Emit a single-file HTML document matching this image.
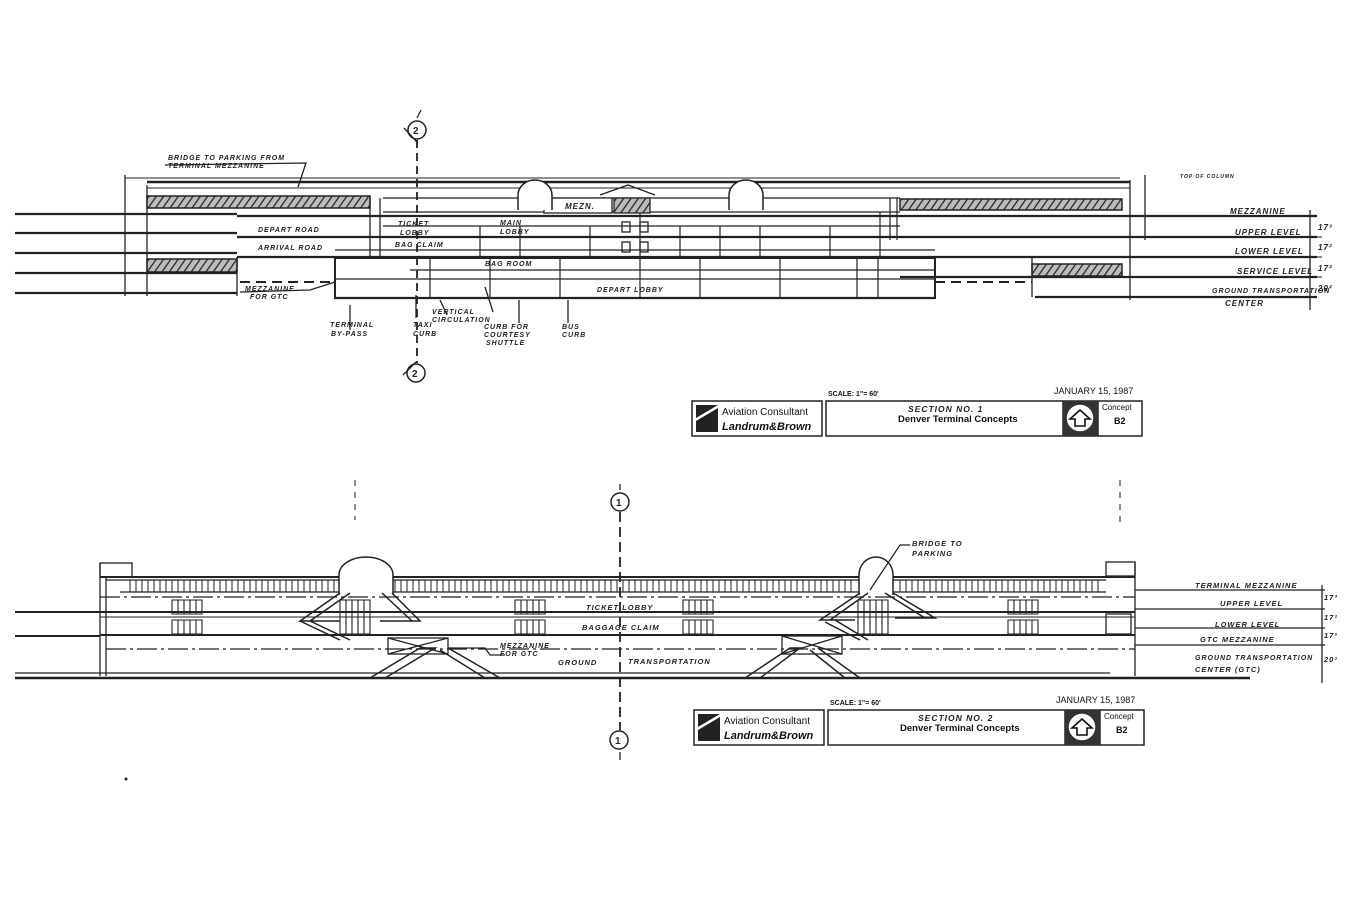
<!DOCTYPE html>
<html><head><meta charset="utf-8"><style>
html,body{margin:0;padding:0;background:#fff}
svg{display:block}
.h{font-family:"Liberation Sans",sans-serif;font-style:italic;font-weight:bold;fill:#222;letter-spacing:1px}
.t{font-family:"Liberation Sans",sans-serif;fill:#111}
</style></head><body>
<svg width="1365" height="910" viewBox="0 0 1365 910" xmlns="http://www.w3.org/2000/svg">
<defs>
<pattern id="hat" width="6" height="6" patternUnits="userSpaceOnUse" patternTransform="rotate(35)">
<rect width="6" height="6" fill="#bbb"/><line x1="0" y1="0" x2="0" y2="6" stroke="#222" stroke-width="2.5"/></pattern>
<g id="tbk">
<g stroke="#222" fill="none" stroke-width="1.5">
<rect x="692" y="401" width="130" height="35"/>
<rect x="826" y="401" width="316" height="35"/>
<line x1="1063" y1="401" x2="1063" y2="436"/>
<line x1="1098" y1="401" x2="1098" y2="436"/>
</g>
<rect x="1063" y="401" width="35" height="35" fill="#333"/>
<circle cx="1080" cy="418" r="14" fill="#fff" stroke="#333" stroke-width="1.5"/>
<path d="M1070 419 L1080 410 L1090 419 L1085 419 L1085 426 L1075 426 L1075 419 Z" fill="none" stroke="#111" stroke-width="1.6"/>
<path d="M696 405 L718 405 L696 418 Z M696 421 L718 408 L718 432 L696 432 Z" fill="#222"/>
<text class="t" x="722" y="415" font-size="10">Aviation Consultant</text>
<text class="t" x="722" y="430" font-size="11" font-style="italic" font-weight="bold">Landrum&amp;Brown</text>
<text class="t" x="898" y="422" font-size="9.5" font-weight="bold">Denver Terminal Concepts</text>
<text class="t" x="1102" y="410" font-size="8">Concept</text>
<text class="t" x="1114" y="424" font-size="9" font-weight="bold">B2</text>
<text class="t" x="828" y="396" font-size="7" font-weight="bold">SCALE: 1"= 60'</text>
<text class="t" x="1054" y="394" font-size="9">JANUARY 15, 1987</text>
</g>
</defs>
<g stroke="#222" fill="none" stroke-width="1.3">
<g stroke-width="2.2">
<line x1="15" y1="214" x2="237" y2="214"/><line x1="15" y1="233" x2="237" y2="233"/>
<line x1="15" y1="253" x2="237" y2="253"/><line x1="15" y1="273" x2="237" y2="273"/>
<line x1="15" y1="293" x2="237" y2="293"/>
<line x1="237" y1="216" x2="1317" y2="216"/>
<line x1="237" y1="237" x2="1317" y2="237"/>
<line x1="237" y1="257" x2="1317" y2="257"/>
<line x1="900" y1="277" x2="1317" y2="277"/>
<line x1="1035" y1="297" x2="1317" y2="297"/>
<line x1="335" y1="298" x2="935" y2="298"/>
</g>
<line x1="1310" y1="210" x2="1310" y2="310"/>
<line x1="125" y1="175" x2="125" y2="296"/><line x1="147" y1="185" x2="147" y2="296"/>
<line x1="125" y1="178" x2="1120" y2="178" stroke-width="1"/>
<line x1="147" y1="182" x2="1130" y2="182" stroke-width="2.5"/>
<line x1="147" y1="188" x2="1130" y2="188" stroke-width="1"/>
<line x1="1130" y1="180" x2="1130" y2="300"/><line x1="1145" y1="175" x2="1145" y2="240"/>
<rect x="147" y="196" width="223" height="12" fill="url(#hat)" stroke-width="1.5"/>
<rect x="900" y="199" width="222" height="11" fill="url(#hat)" stroke-width="1.5"/>
<rect x="147" y="259" width="90" height="13" fill="url(#hat)" stroke-width="1.5"/>
<rect x="1032" y="264" width="90" height="12" fill="url(#hat)" stroke-width="1.5"/>
<line x1="237" y1="257" x2="237" y2="296"/><line x1="1032" y1="257" x2="1032" y2="297"/>
<line x1="240" y1="282" x2="335" y2="282" stroke-dasharray="10 6" stroke-width="2"/>
<line x1="935" y1="282" x2="1032" y2="282" stroke-dasharray="10 6" stroke-width="2"/>
<rect x="335" y="258" width="600" height="40" stroke-width="2"/>
<line x1="335" y1="279" x2="935" y2="279"/>
<line x1="370" y1="198" x2="370" y2="258"/><line x1="380" y1="198" x2="380" y2="258"/>
<line x1="383" y1="198" x2="900" y2="198"/>
<line x1="383" y1="212" x2="900" y2="212"/>
<line x1="383" y1="226" x2="900" y2="226"/>
<line x1="335" y1="250" x2="935" y2="250"/>
<line x1="410" y1="270" x2="935" y2="270"/>
<g stroke-width="1.2">
<line x1="480" y1="226" x2="480" y2="257"/><line x1="520" y1="226" x2="520" y2="257"/><line x1="590" y1="226" x2="590" y2="257"/>
<line x1="640" y1="212" x2="640" y2="257"/><line x1="680" y1="226" x2="680" y2="257"/><line x1="720" y1="226" x2="720" y2="257"/>
<line x1="760" y1="226" x2="760" y2="257"/><line x1="830" y1="226" x2="830" y2="257"/><line x1="880" y1="212" x2="880" y2="257"/>
<line x1="430" y1="258" x2="430" y2="298"/><line x1="490" y1="258" x2="490" y2="298"/><line x1="560" y1="258" x2="560" y2="298"/>
<line x1="640" y1="258" x2="640" y2="298"/><line x1="700" y1="258" x2="700" y2="298"/><line x1="780" y1="258" x2="780" y2="298"/>
<line x1="857" y1="258" x2="857" y2="298"/><line x1="878" y1="258" x2="878" y2="298"/>
<line x1="890" y1="198" x2="890" y2="240"/><line x1="897" y1="198" x2="897" y2="240"/>
</g>
<rect x="544" y="198" width="68" height="15" fill="#fff"/>
<rect x="614" y="198" width="36" height="15" fill="url(#hat)"/>
<path d="M518 210 V195 A17 15 0 0 1 552 195 V210" fill="#fff" stroke-width="1.5"/>
<path d="M729 210 V195 A17 15 0 0 1 763 195 V210" fill="#fff" stroke-width="1.5"/>
<path d="M600 195 L628 185 L655 195" />
<rect x="622" y="222" width="8" height="10"/><rect x="640" y="222" width="8" height="10"/>
<rect x="622" y="242" width="8" height="10"/><rect x="640" y="242" width="8" height="10"/>
<line x1="417" y1="140" x2="417" y2="363" stroke-dasharray="8 5" stroke-width="1.8"/>
<circle cx="417" cy="130" r="9" fill="#fff" stroke-width="1.5"/>
<path d="M404 128 L417 142 M417 118 L421 110" />
<circle cx="416" cy="373" r="9" fill="#fff" stroke-width="1.5"/>
<path d="M403 375 L416 362" />
<path d="M298 187 L306 163 L165 165"/>
<path d="M350 305 V330 M416 295 V318 M440 300 L447 315 M485 287 L493 312 M519 300 V323 M568 300 V323 M240 292 L310 290 L335 282"/>
<g stroke-width="1"><line x1="1300" y1="237" x2="1322" y2="237"/><line x1="1300" y1="257" x2="1322" y2="257"/><line x1="1300" y1="277" x2="1322" y2="277"/></g>
</g>
<g class="h" font-size="7">
<text x="168" y="160">BRIDGE TO PARKING FROM</text>
<text x="168" y="168">TERMINAL MEZZANINE</text>
<text x="258" y="232">DEPART ROAD</text>
<text x="258" y="250">ARRIVAL ROAD</text>
<text x="398" y="226">TICKET</text><text x="400" y="235">LOBBY</text>
<text x="500" y="225">MAIN</text><text x="500" y="234">LOBBY</text>
<text x="395" y="247">BAG CLAIM</text>
<text x="485" y="266">BAG ROOM</text>
<text x="597" y="292">DEPART LOBBY</text>
<text x="565" y="209" font-size="8">MEZN.</text>
<text x="245" y="291">MEZZANINE</text><text x="250" y="299">FOR GTC</text>
<text x="330" y="327">TERMINAL</text><text x="331" y="336">BY-PASS</text>
<text x="413" y="327">TAXI</text><text x="413" y="336">CURB</text>
<text x="432" y="314">VERTICAL</text><text x="432" y="322">CIRCULATION</text>
<text x="484" y="329">CURB FOR</text><text x="484" y="337">COURTESY</text><text x="486" y="345">SHUTTLE</text>
<text x="562" y="329">BUS</text><text x="562" y="337">CURB</text>
<text x="1180" y="178" font-size="5">TOP OF COLUMN</text>
<text x="1230" y="214" font-size="8">MEZZANINE</text>
<text x="1235" y="235" font-size="8">UPPER LEVEL</text>
<text x="1235" y="254" font-size="8">LOWER LEVEL</text>
<text x="1237" y="274" font-size="8">SERVICE LEVEL</text>
<text x="1212" y="293" font-size="7">GROUND TRANSPORTATION</text>
<text x="1225" y="306" font-size="8">CENTER</text>
<text x="1318" y="230" font-size="8">17³</text><text x="1318" y="250" font-size="8">17²</text>
<text x="1318" y="271" font-size="8">17²</text><text x="1318" y="291" font-size="8">20²</text>
<text x="413" y="134" font-size="10" font-style="normal">2</text>
<text x="412" y="377" font-size="10" font-style="normal">2</text>
</g>

<g stroke="#222" fill="none" stroke-width="1.3">
<line x1="15" y1="612" x2="100" y2="612" stroke-width="2"/>
<line x1="15" y1="636" x2="100" y2="636" stroke-width="2"/>
<line x1="15" y1="678" x2="1250" y2="678" stroke-width="2.5"/>
<line x1="15" y1="673" x2="1110" y2="673"/>
<rect x="100" y="563" width="32" height="14"/>
<rect x="1106" y="562" width="29" height="14"/>
<line x1="100" y1="563" x2="100" y2="676"/><line x1="106" y1="577" x2="106" y2="676"/>
<line x1="1135" y1="562" x2="1135" y2="676"/>
<line x1="100" y1="577" x2="1135" y2="577" stroke-width="2"/>
<line x1="106" y1="580" x2="1106" y2="580"/>
<line x1="120" y1="592" x2="1106" y2="592"/>
<g stroke-width="1">
<path d="M130 580 V592 M136 580 V592 M142 580 V592 M148 580 V592 M154 580 V592 M160 580 V592 M166 580 V592 M172 580 V592 M178 580 V592 M184 580 V592 M190 580 V592 M196 580 V592 M202 580 V592 M208 580 V592 M214 580 V592 M220 580 V592 M226 580 V592 M232 580 V592 M238 580 V592 M244 580 V592 M250 580 V592 M256 580 V592 M262 580 V592 M268 580 V592 M274 580 V592 M280 580 V592 M286 580 V592 M292 580 V592 M298 580 V592 M304 580 V592 M310 580 V592 M316 580 V592 M322 580 V592 M328 580 V592 M334 580 V592"/>
<path d="M395 580 V592 M401 580 V592 M407 580 V592 M413 580 V592 M419 580 V592 M425 580 V592 M431 580 V592 M437 580 V592 M443 580 V592 M449 580 V592 M455 580 V592 M461 580 V592 M467 580 V592 M473 580 V592 M479 580 V592 M485 580 V592 M491 580 V592 M497 580 V592 M503 580 V592 M509 580 V592 M515 580 V592 M521 580 V592 M527 580 V592 M533 580 V592 M539 580 V592 M545 580 V592 M551 580 V592 M557 580 V592 M563 580 V592 M569 580 V592 M575 580 V592 M581 580 V592 M587 580 V592 M593 580 V592 M599 580 V592 M605 580 V592 M611 580 V592 M617 580 V592 M623 580 V592 M629 580 V592 M635 580 V592 M641 580 V592 M647 580 V592 M653 580 V592 M659 580 V592 M665 580 V592 M671 580 V592 M677 580 V592 M683 580 V592 M689 580 V592 M695 580 V592 M701 580 V592 M707 580 V592 M713 580 V592 M719 580 V592 M725 580 V592 M731 580 V592 M737 580 V592 M743 580 V592 M749 580 V592 M755 580 V592 M761 580 V592 M767 580 V592 M773 580 V592 M779 580 V592 M785 580 V592 M791 580 V592 M797 580 V592 M803 580 V592 M809 580 V592 M815 580 V592 M821 580 V592 M827 580 V592 M833 580 V592 M839 580 V592 M845 580 V592 M851 580 V592"/>
<path d="M900 580 V592 M906 580 V592 M912 580 V592 M918 580 V592 M924 580 V592 M930 580 V592 M936 580 V592 M942 580 V592 M948 580 V592 M954 580 V592 M960 580 V592 M966 580 V592 M972 580 V592 M978 580 V592 M984 580 V592 M990 580 V592 M996 580 V592 M1002 580 V592 M1008 580 V592 M1014 580 V592 M1020 580 V592 M1026 580 V592 M1032 580 V592 M1038 580 V592 M1044 580 V592 M1050 580 V592 M1056 580 V592 M1062 580 V592 M1068 580 V592 M1074 580 V592 M1080 580 V592 M1086 580 V592 M1092 580 V592 M1098 580 V592"/>
</g>
<line x1="100" y1="597" x2="1135" y2="597" stroke-dasharray="20 4 3 4"/>
<line x1="100" y1="612" x2="1135" y2="612" stroke-width="2"/>
<line x1="100" y1="617" x2="1135" y2="617" stroke-width="1"/>
<line x1="100" y1="635" x2="1135" y2="635" stroke-width="2"/>
<line x1="106" y1="649" x2="1135" y2="649" stroke-dasharray="20 4 3 4"/>
<line x1="1135" y1="590" x2="1325" y2="590"/>
<line x1="1135" y1="609" x2="1325" y2="609"/>
<line x1="1135" y1="628" x2="1325" y2="628"/>
<line x1="1135" y1="645" x2="1325" y2="645"/>
<line x1="1322" y1="585" x2="1322" y2="683"/>
<rect x="1106" y="614" width="25" height="20"/>
<g stroke-width="1.1">
<path d="M172 600 h30 v14 h-30z M178 600 v14 M184 600 v14 M190 600 v14 M196 600 v14 M172 620 h30 v14 h-30z M178 620 v14 M184 620 v14 M190 620 v14 M196 620 v14"/>
<path d="M515 600 h30 v14 h-30z M521 600 v14 M527 600 v14 M533 600 v14 M539 600 v14 M515 620 h30 v14 h-30z M521 620 v14 M527 620 v14 M533 620 v14 M539 620 v14"/>
<path d="M683 600 h30 v14 h-30z M689 600 v14 M695 600 v14 M701 600 v14 M707 600 v14 M683 620 h30 v14 h-30z M689 620 v14 M695 620 v14 M701 620 v14 M707 620 v14"/>
<path d="M1008 600 h30 v14 h-30z M1014 600 v14 M1020 600 v14 M1026 600 v14 M1032 600 v14 M1008 620 h30 v14 h-30z M1014 620 v14 M1020 620 v14 M1026 620 v14 M1032 620 v14"/>
<path d="M340 600 h30 v34 h-30z M346 600 v34 M352 600 v34 M358 600 v34 M364 600 v34"/>
<path d="M858 600 h30 v34 h-30z M864 600 v34 M870 600 v34 M876 600 v34 M882 600 v34"/>
</g>
<path d="M339 595 V575 A27 18 0 0 1 393 575 V595" fill="#fff" stroke-width="1.5"/>
<path d="M859 595 V575 A17 18 0 0 1 893 575 V595" fill="#fff" stroke-width="1.5"/>
<path d="M340 593 L300 621 L340 621 M350 593 L310 621" stroke-width="1.5"/>
<path d="M392 593 L420 621 L380 621 M382 593 L412 621" stroke-width="1.5"/>
<path d="M300 621 L340 640 M310 621 L350 640" stroke-width="1.5"/>
<path d="M860 593 L820 620 L855 620 M868 593 L830 620" stroke-width="1.5"/>
<path d="M893 593 L935 618 L895 618 M885 593 L925 618" stroke-width="1.5"/>
<path d="M825 622 L860 640 M835 620 L868 640" stroke-width="1.5"/>
<path d="M370 678 L420 648 L435 648 L385 678 M448 648 L500 678 L485 678 L440 650" stroke-width="1.5"/>
<path d="M745 678 L790 648 L800 648 L760 678 M818 648 L860 678 L845 678 L810 650" stroke-width="1.5"/>
<rect x="388" y="638" width="60" height="16"/><line x1="388" y1="638" x2="448" y2="654"/><line x1="388" y1="654" x2="448" y2="638"/>
<rect x="782" y="636" width="60" height="18"/><line x1="782" y1="636" x2="842" y2="654"/><line x1="782" y1="654" x2="842" y2="636"/>
<path d="M448 648 L485 648 L490 655 L505 655"/>
<line x1="620" y1="512" x2="620" y2="730" stroke-dasharray="10 5" stroke-width="1.8"/>
<circle cx="620" cy="502" r="9" fill="#fff" stroke-width="1.5"/>
<circle cx="619" cy="740" r="9" fill="#fff" stroke-width="1.5"/>
<path d="M620 490 V484 M620 752 V760"/>
<path d="M355 480 V520 M1120 480 V525" stroke-dasharray="6 6" stroke-width="1"/>
<path d="M870 590 L900 545 L910 545"/>
</g>
<g class="h" font-size="7.5">
<text x="586" y="610">TICKET LOBBY</text>
<text x="582" y="630">BAGGAGE CLAIM</text>
<text x="500" y="648" font-size="7">MEZZANINE</text><text x="500" y="656" font-size="7">FOR GTC</text>
<text x="558" y="665">GROUND</text>
<text x="628" y="664">TRANSPORTATION</text>
<text x="912" y="546">BRIDGE TO</text><text x="912" y="556">PARKING</text>
<text x="1195" y="588">TERMINAL MEZZANINE</text>
<text x="1220" y="606">UPPER LEVEL</text>
<text x="1215" y="627">LOWER LEVEL</text>
<text x="1200" y="642">GTC MEZZANINE</text>
<text x="1195" y="660" font-size="7">GROUND TRANSPORTATION</text>
<text x="1195" y="672">CENTER (GTC)</text>
<text x="1324" y="600">17³</text><text x="1324" y="620">17²</text><text x="1324" y="638">17²</text><text x="1324" y="662">20²</text>
<text x="616" y="506" font-size="10" font-style="normal">1</text>
<text x="615" y="744" font-size="10" font-style="normal">1</text>
</g>

<use href="#tbk"/>
<text class="h" x="908" y="412" font-size="8.5">SECTION NO. 1</text>
<g transform="translate(2,309)"><use href="#tbk"/>
<text class="h" x="916" y="412" font-size="8.5">SECTION NO. 2</text></g>
<circle cx="126" cy="779" r="1.5" fill="#222"/>
</svg>
</body></html>
